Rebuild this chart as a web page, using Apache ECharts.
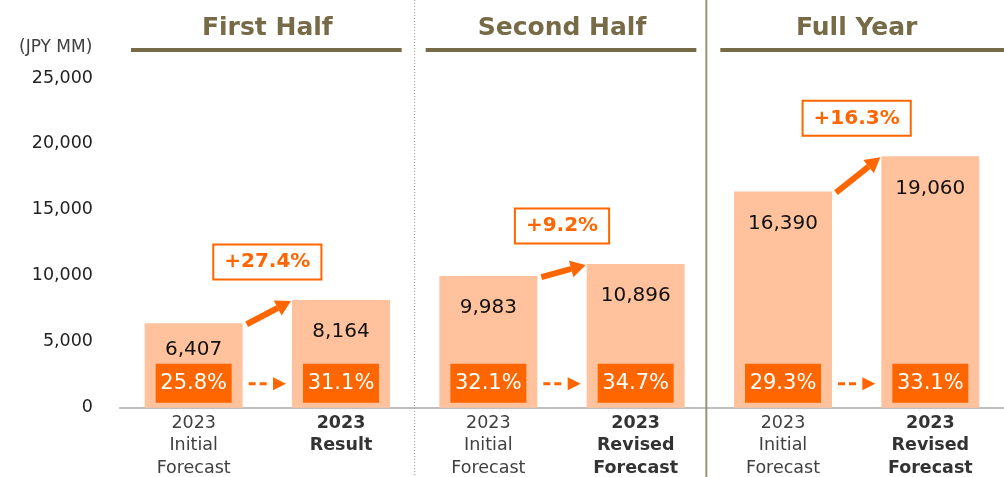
<!DOCTYPE html>
<html>
<head>
<meta charset="utf-8">
<script src="https://cdn.jsdelivr.net/npm/echarts@6/dist/echarts.min.js"></script>
<style>
  html, body { margin: 0; padding: 0; background: #fff; }
  #chart { width: 1004px; height: 477px; }
</style>
</head>
<body>
<div id="chart"></div>
<script>
// chart data
var categories = ['2023\nInitial\nForecast', '2023\nResult',
                  '2023\nInitial\nForecast', '2023\nRevised\nForecast',
                  '2023\nInitial\nForecast', '2023\nRevised\nForecast'];
var values = [6407, 8164, 9983, 10896, 16390, 19060];
var ratios = [25.8, 31.1, 32.1, 34.7, 29.3, 33.1];
var sectionNames = ['First Half', 'Second Half', 'Full Year'];
var growthRates = [27.4, 9.2, 16.3];
var yTicks = [0, 5000, 10000, 15000, 20000, 25000];
var unitLabel = '(JPY MM)';

var FONT = '"DejaVu Sans", Verdana, sans-serif';
var ORANGE = '#FF6600';
var OLIVE = '#766B46';

var dom = document.getElementById('chart');
var myChart = echarts.init(dom);

var barData = values.map(function (v, i) {
	var item = { value: v };
	if (i === 0) item.label = { offset: [0, -5] };
	return item;
});

var ratioData = ratios.map(function (r, i) { return [i, r]; });

var sectionData = sectionNames.map(function (name, i) {
	return [2 * i, values[2 * i], values[2 * i + 1], growthRates[i], i];
});

function arrow(x1, y1, x2, y2, opt) {
	var a = Math.atan2(y2 - y1, x2 - x1);
	var ux = Math.cos(a), uy = Math.sin(a);
	var bx = x2 - ux * opt.headLen, by = y2 - uy * opt.headLen;
	var ex = bx + ux * (opt.gap || 0), ey = by + uy * (opt.gap || 0);
	var hw = opt.headW / 2;
	return [
		{
			type: 'line',
			shape: { x1: x1, y1: y1, x2: ex, y2: ey },
			style: { stroke: ORANGE, lineWidth: opt.width, lineDash: opt.dash || null }
		},
		{
			type: 'polygon',
			shape: { points: [[x2, y2], [bx - uy * hw, by + ux * hw], [bx + uy * hw, by - ux * hw]] },
			style: { fill: ORANGE }
		}
	];
}

function renderRatio(params, api) {
	var p = api.coord([api.value(0), 0]);
	return {
		type: 'group',
		children: [
			{
				type: 'rect',
				shape: { x: p[0] - 38, y: p[1] - 44, width: 76, height: 39 },
				style: { fill: ORANGE }
			},
			{
				type: 'text',
				x: p[0], y: p[1] - 24,
				style: {
					text: api.value(1).toFixed(1) + '%',
					fill: '#fff', fontSize: 21, fontFamily: FONT,
					align: 'center', verticalAlign: 'middle'
				}
			}
		]
	};
}

function renderSection(params, api) {
	var x0 = api.value(0), v1 = api.value(1), v2 = api.value(2);
	var g = api.value(3), idx = api.value(4);
	var H = api.getHeight(), W = api.getWidth();
	var left = api.coord([x0 - 0.5, 0])[0];
	var right = api.coord([x0 + 1.5, 0])[0];
	var mid = api.coord([x0 + 0.5, 0])[0];
	var p1 = api.coord([x0, v1]);
	var p2 = api.coord([x0 + 1, v2]);
	var base = api.coord([x0, 0])[1];
	var kids = [];

	// header
	kids.push({
		type: 'text', x: mid, y: 28,
		style: {
			text: sectionNames[idx], fill: OLIVE, fontSize: 25, fontWeight: 'bold',
			fontFamily: FONT, align: 'center', verticalAlign: 'middle'
		}
	});
	kids.push({
		type: 'line',
		shape: { x1: left + 11, y1: 50, x2: (idx === 2 ? W : right - 13), y2: 50 },
		style: { stroke: OLIVE, lineWidth: 4 }
	});

	// separators
	if (idx === 1) {
		kids.push({
			type: 'line', shape: { x1: left, y1: 0, x2: left, y2: H },
			style: { stroke: '#A09A8A', lineWidth: 1, lineDash: [1, 2] }
		});
	} else if (idx === 2) {
		kids.push({
			type: 'line', shape: { x1: left - 3, y1: 0, x2: left - 3, y2: H },
			style: { stroke: '#9A9270', lineWidth: 2 }
		});
	}

	// growth arrow
	kids = kids.concat(arrow(p1[0] + 53, p1[1] + 1, p2[0] - 50, p2[1] + 1,
		{ width: 6, headLen: 15, headW: 17 }));

	// growth label
	kids.push({
		type: 'text', x: mid, y: p2[1] - 38,
		style: {
			text: '+' + g.toFixed(1) + '%', fill: ORANGE, fontSize: 20, fontWeight: 'bold',
			fontFamily: FONT, align: 'center', verticalAlign: 'middle',
			backgroundColor: '#fff', borderColor: ORANGE, borderWidth: 2,
			padding: [6, 10, 5, 10], lineHeight: 22
		}
	});

	// ratio arrow (dashed)
	kids = kids.concat(arrow(p1[0] + 55, base - 24, p2[0] - 55, base - 24,
		{ width: 3, headLen: 13, headW: 13, gap: -5, dash: [7, 4] }));

	return { type: 'group', children: kids };
}

option = {
	backgroundColor: '#fff',
	animation: false,
	grid: { left: 120, right: -6, top: 78, bottom: 67, containLabel: false },
	graphic: [
		{
			type: 'text', left: 19, top: 39,
			style: { text: unitLabel, fill: '#404040', fontSize: 17, fontFamily: FONT }
		}
	],
	xAxis: [
		{
			type: 'category',
			data: categories,
			axisLine: { lineStyle: { color: '#BFBFBF', width: 2 } },
			axisTick: { show: false },
			axisLabel: {
				interval: 0,
				margin: 4,
				formatter: function (value, index) {
					var tag = index % 2 ? 'b' : 'n';
					return value.split('\n').map(function (s) {
						return '{' + tag + '|' + s + '}';
					}).join('\n');
				},
				rich: {
					n: { fontSize: 17.5, lineHeight: 22.5, color: '#404040', fontFamily: FONT },
					b: { fontSize: 17.5, lineHeight: 22.5, color: '#333', fontWeight: 'bold', fontFamily: FONT }
				}
			}
		},
		{
			type: 'value', min: -0.5, max: 5.5, show: false
		}
	],
	yAxis: {
		type: 'value',
		min: yTicks[0],
		max: yTicks[yTicks.length - 1],
		interval: 5000,
		axisLine: { show: false },
		axisTick: { show: false },
		splitLine: { show: false },
		axisLabel: {
			margin: 27,
			color: '#222',
			fontSize: 17.5,
			fontFamily: FONT,
			formatter: function (v) { return v.toLocaleString('en-US'); }
		}
	},
	series: [
		{
			type: 'bar',
			data: barData,
			barWidth: 98,
			itemStyle: { color: '#FFC29D' },
			label: {
				show: true,
				position: 'insideTop',
				distance: 22,
				color: '#111',
				fontSize: 20,
				fontFamily: FONT,
				formatter: function (p) { return p.value.toLocaleString('en-US'); }
			}
		},
		{
			type: 'custom',
			xAxisIndex: 1,
			data: ratioData,
			renderItem: renderRatio,
			z: 3
		},
		{
			type: 'custom',
			xAxisIndex: 1,
			data: sectionData,
			encode: { x: 0, y: 1 },
			renderItem: renderSection,
			z: 3
		}
	]
};

if (option && typeof option === "object") {
	myChart.setOption(option, true);
}
</script>
</body>
</html>
